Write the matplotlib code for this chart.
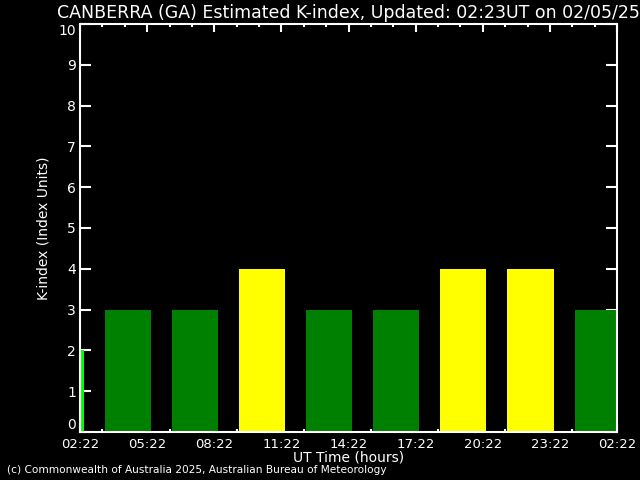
import matplotlib
matplotlib.use("Agg")
import matplotlib.pyplot as plt
from matplotlib.ticker import MultipleLocator

# start of the 24 h window is 02:22 UT; bars sit at the middle of each 3 h K-index period
start_hour = 2 + 22 / 60
period_mid_hours = [1.5, 4.5, 7.5, 10.5, 13.5, 16.5, 19.5, 22.5, 25.5]
k_values = [2, 3, 3, 4, 3, 3, 4, 4, 3]
bar_colors = ['#00ff00', '#008000', '#008000', '#ffff00', '#008000',
              '#008000', '#ffff00', '#ffff00', '#008000']
tick_labels = ['02:22', '05:22', '08:22', '11:22', '14:22', '17:22', '20:22', '23:22', '02:22']


def main():
    plt.rcParams['font.family'] = 'DejaVu Sans'
    fig = plt.figure(figsize=(6.4, 4.8), dpi=100, facecolor='black')
    ax = fig.add_axes([80 / 640, 48 / 480, 537 / 640, 408 / 480], facecolor='black')

    x = [h - start_hour for h in period_mid_hours]
    ax.bar(x, k_values, width=2.06, color=bar_colors, zorder=2)

    ax.set_xlim(0, 24)
    ax.set_ylim(0, 10)
    ax.set_xticks(range(0, 25, 3))
    ax.set_xticklabels(tick_labels)
    ax.xaxis.set_minor_locator(MultipleLocator(1))
    ax.set_yticks(range(0, 11))

    for s in ax.spines.values():
        s.set_color('white')
        s.set_linewidth(1.5)
        s.set_zorder(3)

    ax.tick_params(axis='both', which='both', direction='in', colors='white',
                   top=True, right=True)
    ax.tick_params(axis='x', which='major', length=6, width=1.5, pad=4, labelsize=9.5)
    ax.tick_params(axis='x', which='minor', length=2.5, width=1.5)
    ax.tick_params(axis='y', which='major', length=8, width=1.5, pad=3, labelsize=10)

    # end labels kept inside the axis height, as in the original
    ylabels = ax.get_yticklabels()
    ylabels[0].set_va('bottom')
    ylabels[-1].set_va('top')

    ax.set_title('CANBERRA (GA) Estimated K-index, Updated: 02:23UT on 02/05/25',
                 color='white', fontsize=12.5, pad=4)
    ax.set_ylabel('K-index (Index Units)', color='white', fontsize=10)
    ax.yaxis.set_label_coords(-0.055, 0.5)
    ax.set_xlabel('UT Time (hours)', color='white', fontsize=10, labelpad=0)

    fig.text(7 / 640, 1 - 470 / 480, '(c) Commonwealth of Australia 2025, Australian Bureau of Meteorology',
             color='white', fontsize=7.6, va='center', ha='left')

    fig.savefig('out.png', dpi=100, facecolor='black')


if __name__ == "__main__":
    main()
